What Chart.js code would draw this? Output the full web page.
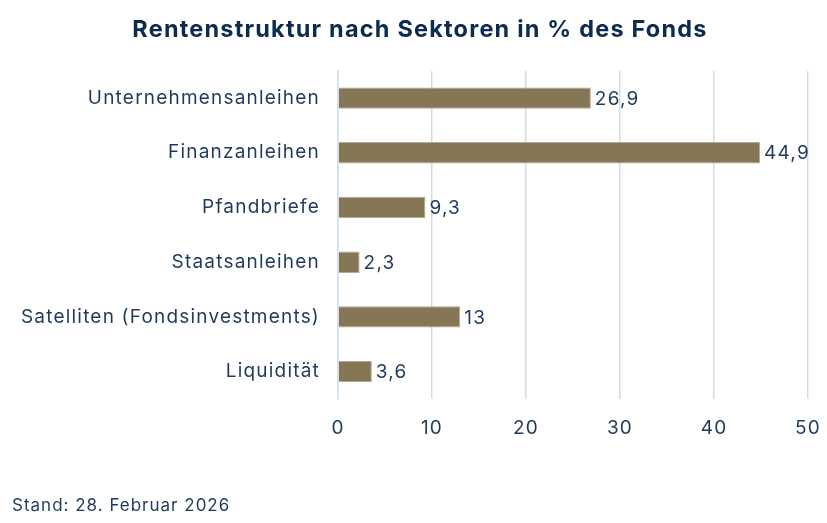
<!DOCTYPE html>
<html>
<head>
<meta charset="utf-8">
<script src="https://cdn.jsdelivr.net/npm/chart.js@4/dist/chart.umd.min.js"></script>
<style>
  body { margin: 0; background: #fff; }
  #wrap { position: relative; width: 827px; height: 523px; }
  #footer {
    position: absolute;
    left: 12px;
    top: 494px;
    font: 17px/22px Inter, sans-serif;
    letter-spacing: 1px;
    color: #1f3a5c;
  }
</style>
</head>
<body>
<div id="wrap">
  <canvas id="barChart"></canvas>
  <div id="footer">Stand: 28. Februar 2026</div>
</div>
<script>
const labels = [
  "Unternehmensanleihen",
  "Finanzanleihen",
  "Pfandbriefe",
  "Staatsanleihen",
  "Satelliten (Fondsinvestments)",
  "Liquidität",
];
const values = [26.9, 44.9, 9.3, 2.3, 13, 3.6];
const xTicks = [0, 10, 20, 30, 40, 50];

const textColor = "#1f3a5c";
const fontFamily = "Inter";

// a bit of letter spacing for all canvas text
const spacing = {
  id: "spacing",
  beforeDraw(chart) {
    chart.ctx.letterSpacing = "1.2px";
  },
};

// value labels at the end of each bar, German decimal comma
const valueLabels = {
  id: "valueLabels",
  afterDatasetsDraw(chart) {
    const ctx = chart.ctx;
    const meta = chart.getDatasetMeta(0);
    ctx.save();
    ctx.font = "19px " + fontFamily;
    ctx.fillStyle = textColor;
    ctx.textBaseline = "middle";
    meta.data.forEach((bar, i) => {
      const txt = String(values[i]).replace(".", ",");
      ctx.fillText(txt, bar.x + 4, bar.y + 1);
    });
    ctx.restore();
  },
};

const ctx = document.getElementById("barChart").getContext("2d");

const config = {
  type: "bar",
  data: {
    labels: labels,
    datasets: [
      {
        data: values,
        backgroundColor: "#857656",
        borderColor: "#b3a98f",
        borderWidth: 1,
        barPercentage: 0.78,
        categoryPercentage: 0.5,
      },
    ],
  },
  options: {
    indexAxis: "y",
    responsive: true,
    maintainAspectRatio: false,
    animation: false,
    layout: {
      padding: { left: 32, right: 19, top: 0, bottom: 80 },
    },
    plugins: {
      legend: { display: false },
      tooltip: { enabled: false },
      title: {
        display: true,
        text: "Rentenstruktur nach Sektoren in % des Fonds",
        color: "#0d2b4e",
        font: { family: fontFamily, size: 23.5, weight: "bold" },
        padding: { top: 16, bottom: 26.5 },
      },
    },
    scales: {
      x: {
        min: 0,
        max: 50,
        afterBuildTicks(axis) {
          axis.ticks = xTicks.map((v) => ({ value: v }));
        },
        afterFit(axis) {
          axis.height = 44;
          axis.paddingLeft = 0;
          axis.paddingRight = 0;
        },
        grid: {
          color: "#d3dae6",
          lineWidth: 1.5,
          drawTicks: false,
        },
        border: { display: false },
        ticks: {
          color: textColor,
          padding: 18,
          font: { family: fontFamily, size: 19 },
        },
      },
      y: {
        afterFit(axis) {
          axis.width = 306;
          // long labels reach into the left padding, don't clip them
          axis._computeLabelArea = () => undefined;
        },
        grid: { display: false },
        border: { display: true, color: "#cfe0f5", width: 1.5 },
        ticks: {
          color: textColor,
          padding: 10,
          font: { family: fontFamily, size: 19 },
        },
      },
    },
  },
  plugins: [spacing, valueLabels],
};

const myChart = new Chart(ctx, config);
</script>
</body>
</html>
